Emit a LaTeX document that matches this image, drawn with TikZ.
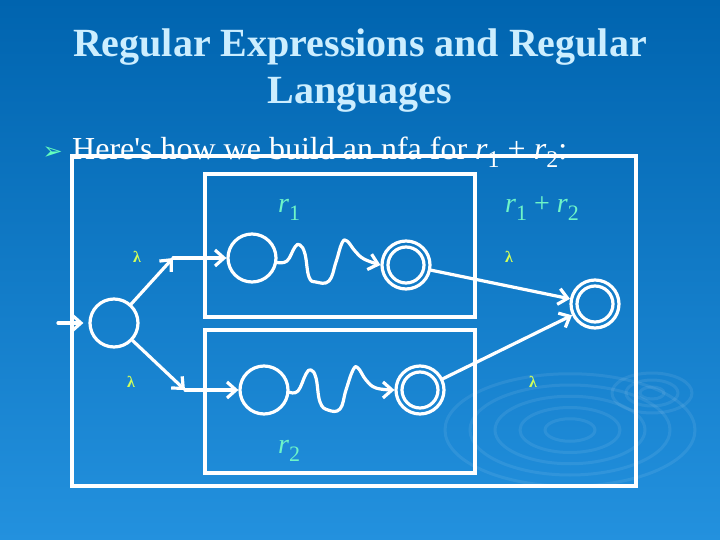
\documentclass[tikz,border=0pt]{standalone}
\usepackage{fontspec}
\setmainfont{Liberation Serif}
\newfontfamily\dejavu{DejaVu Sans}
\usetikzlibrary{arrows.meta}
\definecolor{bgtop}{RGB}{0,100,175}
\definecolor{bgmid}{RGB}{4,110,190}
\definecolor{bgbot}{RGB}{35,145,222}
\definecolor{titlec}{RGB}{204,238,255}
\definecolor{labc}{RGB}{110,245,200}
\definecolor{lamc}{RGB}{210,255,90}
\definecolor{bulc}{RGB}{100,255,190}
\newcommand\mysub[1]{\raisebox{-8pt}{\fontsize{22}{22}\selectfont #1}}
\begin{document}
\begin{tikzpicture}[x=1pt,y=-1pt,
  wire/.style={draw=white,line width=3.2pt,line cap=round,line join=round},
  arr/.style={wire,-{Straight Barb[length=9pt,width=16pt]}},
  state/.style={circle,draw=white,line width=3.2pt,minimum size=48pt,inner sep=0pt},
  boxc/.style={draw=white,line width=3.2pt},
  lam/.style={text=lamc,font=\fontsize{16}{16}\selectfont\bfseries,inner sep=0pt},
  lab/.style={text=labc,font=\fontsize{28}{28}\selectfont,anchor=base west,inner sep=0pt},
  ripple/.style={draw=white,opacity=0.08,line width=3pt}
]
\useasboundingbox (0,0) rectangle (720,540);
\shade[top color=bgtop,middle color=bgmid,bottom color=bgbot] (0,0) rectangle (720,540);
% background ripples
\foreach \r in {25,50,75,100,125}
  \draw[ripple] (570,430) ellipse ({\r} and {0.45*\r});
\foreach \r in {12,26,40}
  \draw[ripple] (652,393) ellipse ({\r} and {0.5*\r});

% title and bullet text
\node[anchor=base,text=titlec,font=\fontsize{40}{46}\selectfont\bfseries,inner sep=0pt] (t1) at (360,57) {Regular Expressions and Regular};
\node[anchor=base,text=titlec,font=\fontsize{40}{46}\selectfont\bfseries,inner sep=0pt] (t2) at (360,104) {Languages};
\node[anchor=base east,text=bulc,font=\dejavu\fontsize{24}{24}\selectfont,inner sep=0pt] (bul) at (63,160) {➢};
\node[anchor=base west,text=white,font=\fontsize{32}{32}\selectfont,inner sep=0pt] (txt) at (72,160)
  {Here\textquotesingle s how we build an nfa for \textit{r}\raisebox{-8pt}{\fontsize{24}{24}\selectfont 1} + \textit{r}\raisebox{-8pt}{\fontsize{24}{24}\selectfont 2}:};

% boxes
\draw[boxc] (72,156) rectangle (636,486);
\draw[boxc] (205,174) rectangle (475,317);
\draw[boxc] (205,330) rectangle (475,473);

% states
\node[state] (s) at (114,323) {};
\node[state] (a1) at (252,258) {};
\node[state] (f1) at (406,265) {};
\node[state] (a2) at (264,390) {};
\node[state] (f2) at (420,390) {};
\node[state] (f) at (595,304) {};
\foreach \n in {f1,f2,f} \draw[wire] (\n.center) circle (18pt);

\coordinate (in) at (58,323);
\coordinate (e1) at (173,258);
\coordinate (e2) at (185,390);

% connectors
\draw[arr,shorten >=5pt] (in) -- (s.west);
\draw[arr] (s) -- (e1);
\draw[arr] (e1) -- (a1);
\draw[arr] (s) -- (e2);
\draw[arr] (e2) -- (a2);
\draw[arr] (f1) -- (f);
\draw[arr] (f2) -- (f);
\draw[arr] plot[smooth,tension=0.7] coordinates {(a1.-10) (287,261) (295,247) (300,245) (305,254) (309,277) (316,282) (329,281) (336,262) (342,243) (347,241) (355,251) (364,259) (f1.west)};
\draw[arr] plot[smooth,tension=0.7] coordinates {(a2.-5) (298,391) (306,374) (311,370) (316,378) (320,402) (328,410) (340,409) (346,390) (353,370) (358,368) (366,380) (376,388) (f2.west)};

% labels
\node[lab] (l1) at (278,213) {\textit{r}\mysub{1}};
\node[lab] (l12) at (505,213) {\textit{r}\mysub{1} + \textit{r}\mysub{2}};
\node[lab] (l2) at (278,453) {\textit{r}\mysub{2}};
\node[lam] (lam1) at (137,257) {λ};
\node[lam] (lam2) at (509,257) {λ};
\node[lam] (lam3) at (131,382) {λ};
\node[lam] (lam4) at (533,382) {λ};
\end{tikzpicture}
\end{document}
